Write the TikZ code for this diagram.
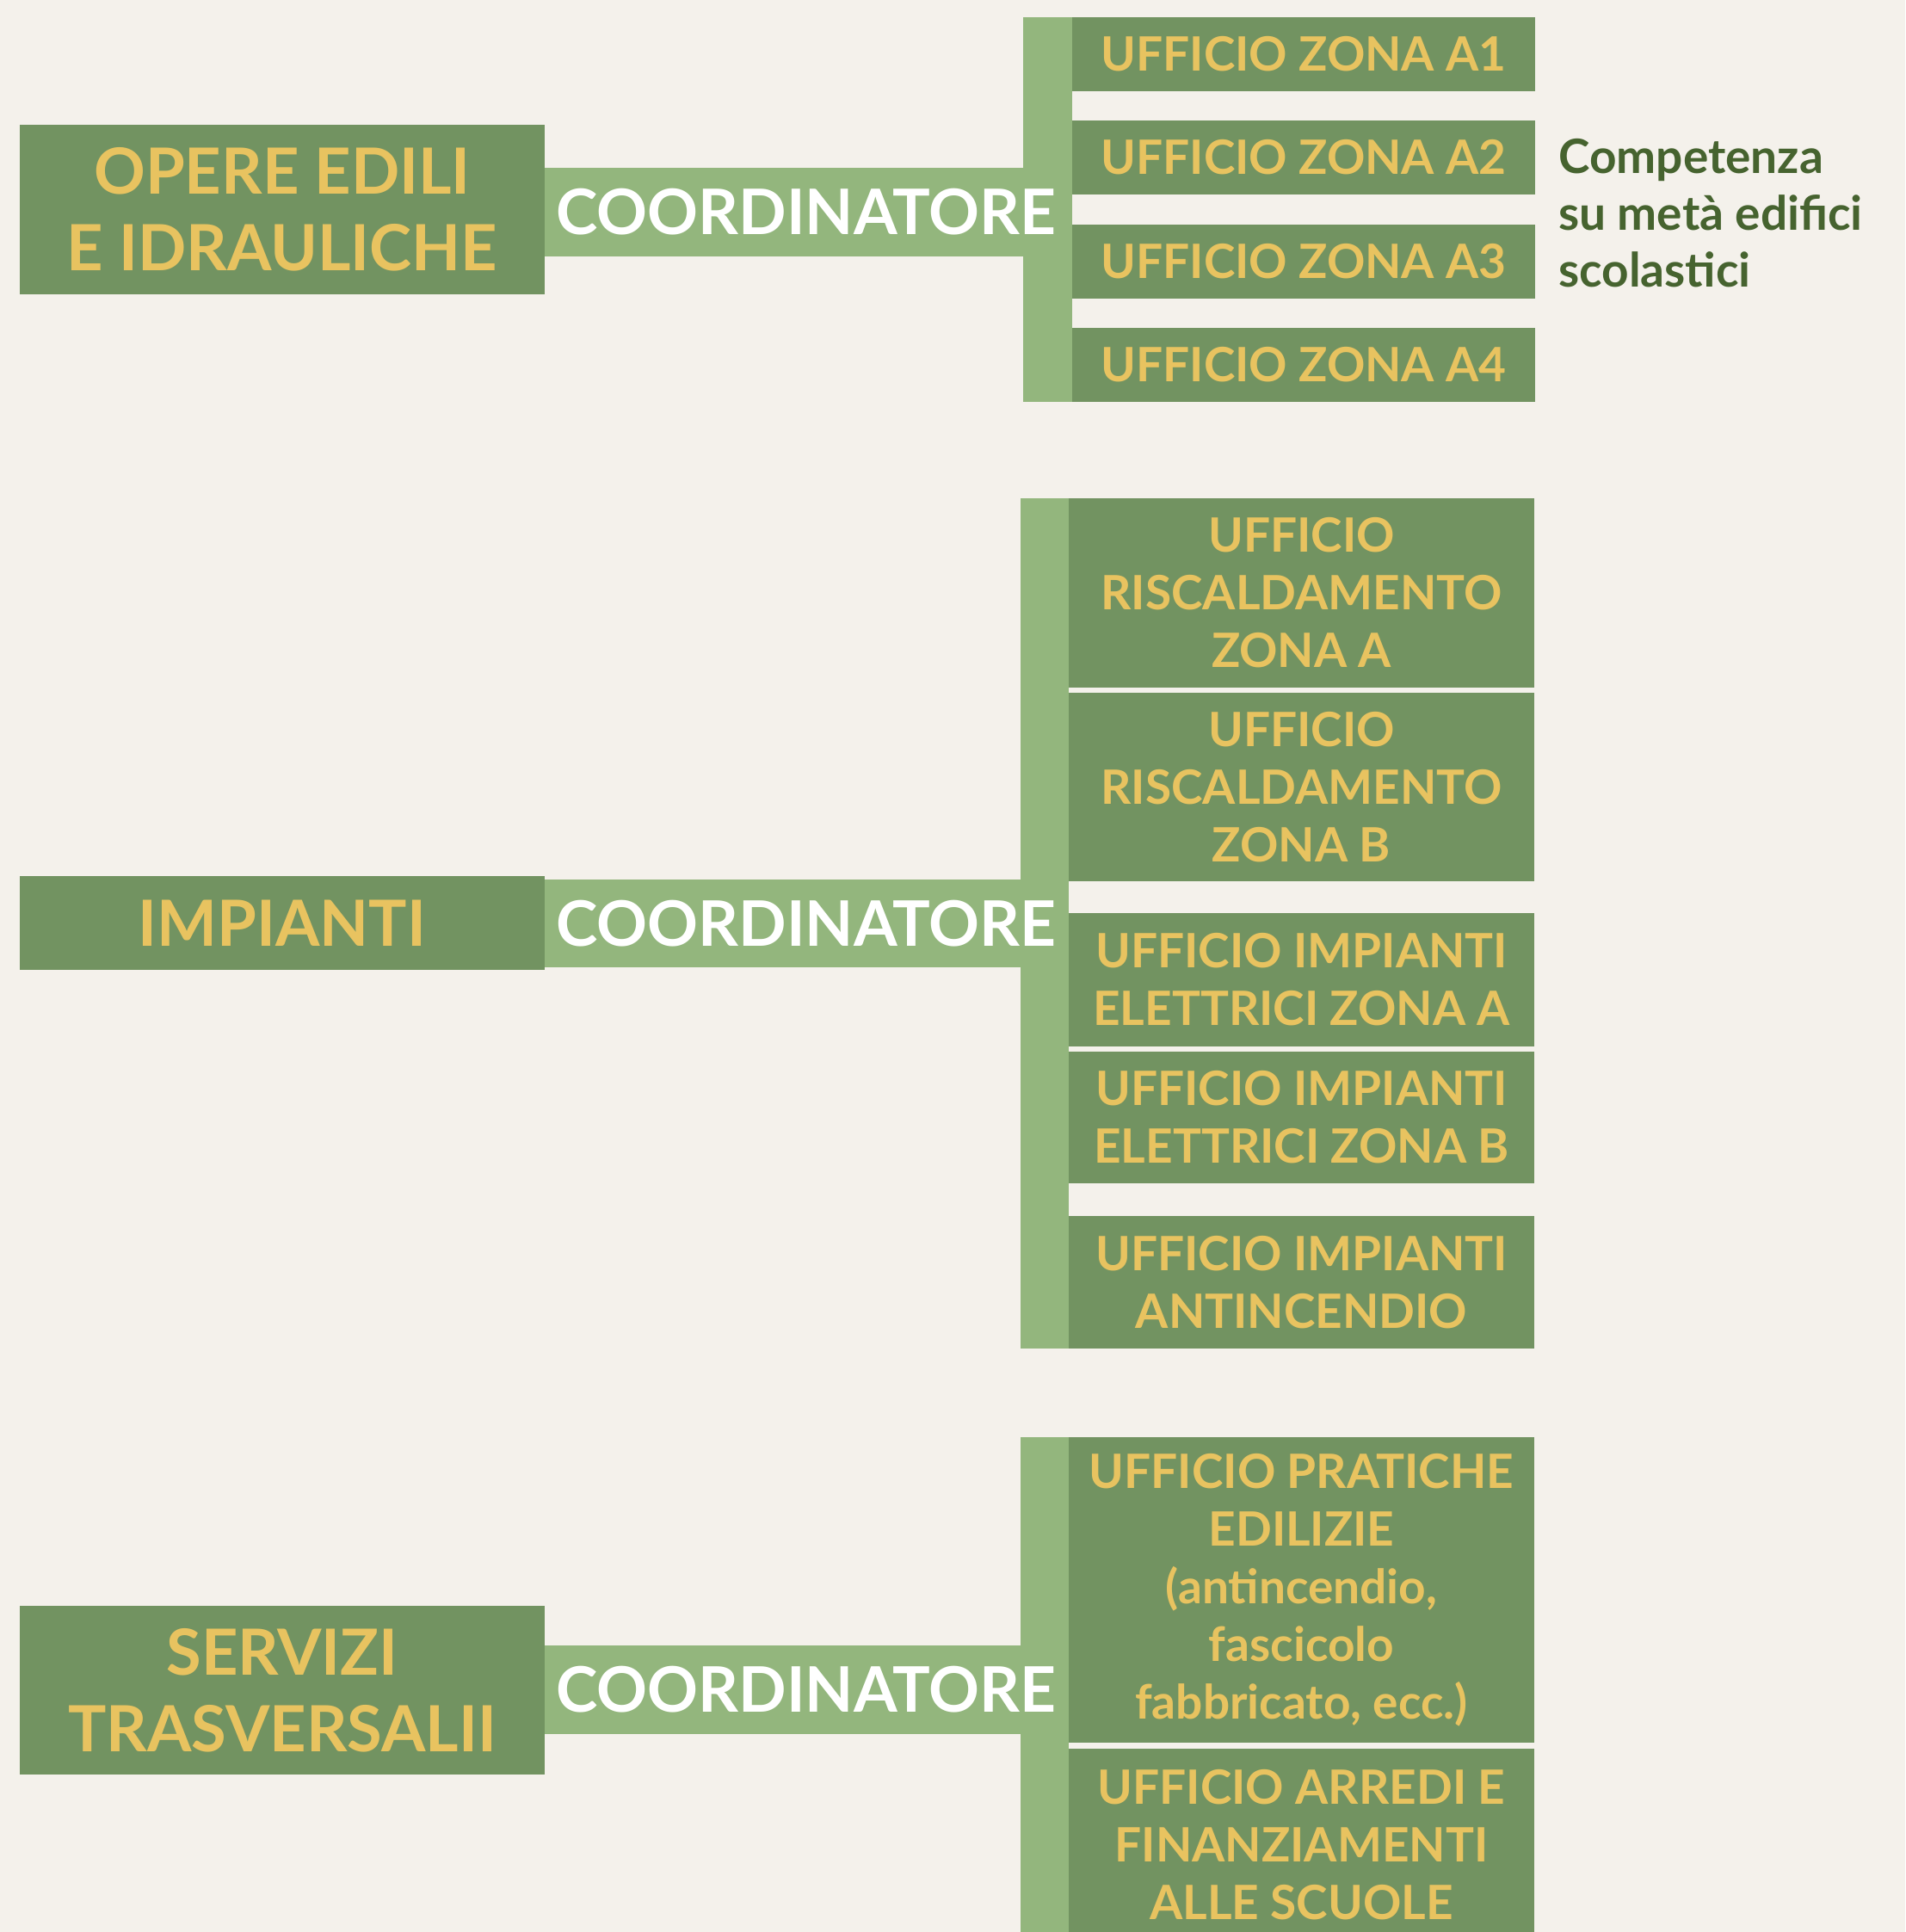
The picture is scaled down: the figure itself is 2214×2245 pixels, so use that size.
\documentclass[tikz,border=0pt]{standalone}
\usepackage{fontspec}
\setmainfont{Lato}
\definecolor{bg}{HTML}{F4F1EB}
\definecolor{dark}{HTML}{729361}
\definecolor{light}{HTML}{93B67D}
\definecolor{gold}{HTML}{E8C360}
\definecolor{note}{HTML}{46632F}
\tikzset{
  rect/.style={anchor=north west, inner sep=0pt, outer sep=0pt, draw=none},
  titlebox/.style={rect, fill=dark, text=gold, align=center,
    font=\bfseries\fontsize{74}{89}\selectfont},
  office/.style={rect, fill=dark, text=gold, align=center,
    font=\bfseries\fontsize{55}{67}\selectfont},
  hbar/.style={rect, fill=light},
  vbar/.style={rect, fill=light},
  coordtext/.style={inner sep=0pt, text=white,
    font=\bfseries\fontsize{73}{80}\selectfont},
  notetext/.style={anchor=west, inner sep=0pt, text=note, align=left,
    font=\bfseries\fontsize{55}{66}\selectfont}
}
\begin{document}
\begin{tikzpicture}[x=1pt,y=-1pt]
\fill[bg] (0,0) rectangle (2214,2245);
\useasboundingbox (0,0) rectangle (2214,2245);

% ---------- OPERE EDILI ----------
\node[vbar, minimum width=57pt, minimum height=447pt] (v1) at (1189,20) {};
\node[office, minimum width=538pt, minimum height=86pt] (a1) at (1246,20) {UFFICIO ZONA A1};
\node[office, minimum width=538pt, minimum height=86pt] (a2) at (1246,140) {UFFICIO ZONA A2};
\node[office, minimum width=538pt, minimum height=86pt] (a3) at (1246,261) {UFFICIO ZONA A3};
\node[office, minimum width=538pt, minimum height=86pt] (a4) at (1246,381) {UFFICIO ZONA A4};
\node[hbar, minimum width=556pt, minimum height=103pt] (c1) at (633,195) {};
\node[coordtext] (c1t) at (937,246) {COORDINATORE};
\node[titlebox, minimum width=610pt, minimum height=197pt] (t1) at (23,145) {OPERE EDILI\\E IDRAULICHE};
\node[notetext] (n1) at (1811,248) {Competenza\\su metà edifici\\scolastici};

% ---------- IMPIANTI ----------
\node[vbar, minimum width=56pt, minimum height=988pt] (v2) at (1186,579) {};
\node[office, minimum width=541pt, minimum height=220pt] (r1) at (1242,579) {UFFICIO\\RISCALDAMENTO\\ZONA A};
\node[office, minimum width=541pt, minimum height=219pt] (r2) at (1242,805) {UFFICIO\\RISCALDAMENTO\\ZONA B};
\node[office, minimum width=541pt, minimum height=155pt] (e1) at (1242,1061) {UFFICIO IMPIANTI\\ELETTRICI ZONA A};
\node[office, minimum width=541pt, minimum height=153pt] (e2) at (1242,1222) {UFFICIO IMPIANTI\\ELETTRICI ZONA B};
\node[office, minimum width=541pt, minimum height=154pt] (f1) at (1242,1413) {UFFICIO IMPIANTI\\ANTINCENDIO};
\node[hbar, minimum width=553pt, minimum height=102pt] (c2) at (633,1022) {};
\node[coordtext] (c2t) at (937,1073) {COORDINATORE};
\node[titlebox, minimum width=610pt, minimum height=109pt] (t2) at (23,1018) {IMPIANTI};

% ---------- SERVIZI TRASVERSALI ----------
\node[vbar, minimum width=56pt, minimum height=586pt] (v3) at (1186,1670) {};
\node[office, minimum width=541pt, minimum height=355pt] (p1) at (1242,1670) {UFFICIO PRATICHE\\EDILIZIE\\(antincendio,\\fascicolo\\fabbricato, ecc.)};
\node[office, minimum width=541pt, minimum height=224pt] (p2) at (1242,2032) {UFFICIO ARREDI E\\FINANZIAMENTI\\ALLE SCUOLE};
\node[hbar, minimum width=553pt, minimum height=103pt] (c3) at (633,1912) {};
\node[coordtext] (c3t) at (937,1963) {COORDINATORE};
\node[titlebox, minimum width=610pt, minimum height=196pt] (t3) at (23,1866) {SERVIZI\\TRASVERSALII};
\end{tikzpicture}
\end{document}
